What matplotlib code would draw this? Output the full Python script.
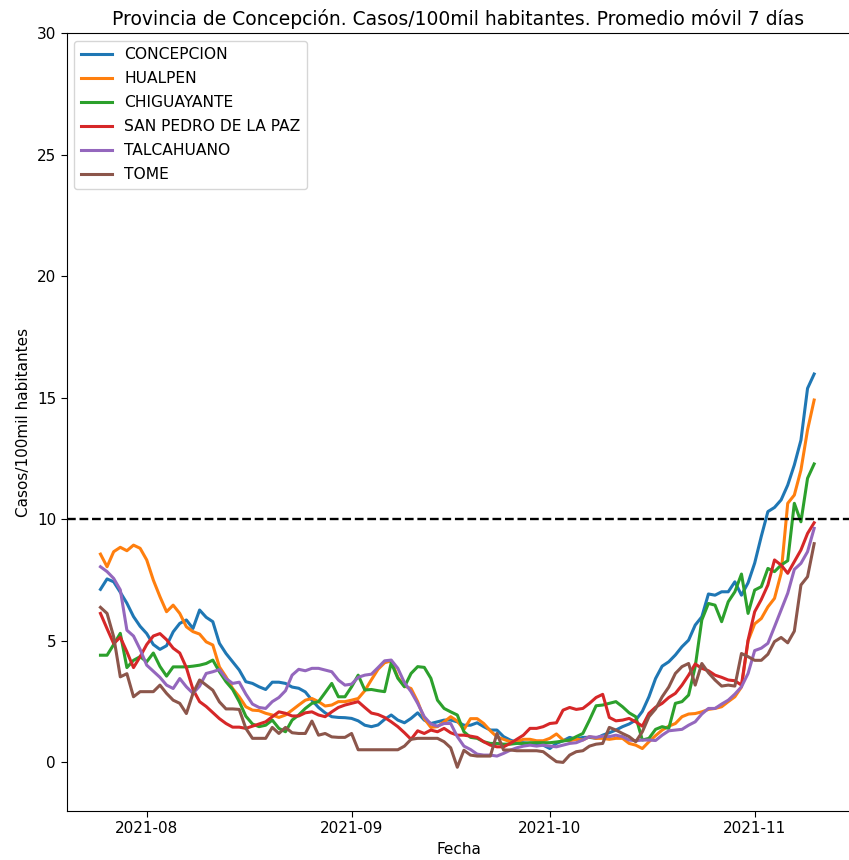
import matplotlib
matplotlib.use("Agg")
import matplotlib.pyplot as plt
import matplotlib.dates as mdates
import pandas as pd

start_date = "2021-07-25"
n_days = 109

concepcion = [
    7.12, 7.55, 7.43, 7.0, 6.55, 6.0, 5.6, 5.3, 4.85, 4.65,
    4.8, 5.37, 5.72, 5.86, 5.51, 6.27, 5.97, 5.79, 4.9, 4.48,
    4.14, 3.8, 3.32, 3.25, 3.11, 3.0, 3.3, 3.3, 3.25, 3.1,
    3.05, 2.9, 2.56, 2.26, 2.04, 1.88, 1.85, 1.84, 1.81, 1.71,
    1.53, 1.47, 1.54, 1.77, 1.95, 1.74, 1.63, 1.81, 2.04, 1.74,
    1.6, 1.67, 1.74, 1.74, 1.67, 1.53, 1.53, 1.63, 1.47, 1.33,
    1.33, 1.06, 0.92, 0.82, 0.81, 0.78, 0.75, 0.71, 0.57, 0.78,
    0.89, 1.03, 0.95, 1.03, 1.03, 0.99, 1.12, 1.22, 1.33, 1.47,
    1.58, 1.74, 2.1, 2.7, 3.45, 3.96, 4.14, 4.42, 4.76, 5.03,
    5.65, 5.99, 6.93, 6.88, 7.02, 7.02, 7.43, 6.88, 7.39, 8.2,
    9.3, 10.32, 10.49, 10.8, 11.41, 12.24, 13.26, 15.39, 15.98,
]

hualpen = [
    8.57, 8.05, 8.67, 8.85, 8.71, 8.94, 8.81, 8.33, 7.5, 6.82,
    6.2, 6.47, 6.13, 5.58, 5.38, 5.28, 4.96, 4.83, 3.93, 3.52,
    3.04, 2.7, 2.29, 2.15, 2.13, 2.02, 1.95, 1.85, 1.95, 2.15,
    2.36, 2.56, 2.63, 2.5, 2.32, 2.36, 2.5, 2.5, 2.56, 2.63,
    2.95, 3.4, 3.83, 4.1, 4.18, 3.5, 3.14, 3.04, 2.5, 1.8,
    1.44, 1.47, 1.67, 1.88, 1.7, 1.35, 1.8, 1.8, 1.6, 1.3,
    1.05, 0.95, 0.85, 0.85, 0.95, 0.95, 0.89, 0.89, 0.99, 1.17,
    0.92, 0.89, 0.95, 0.92, 1.06, 0.99, 0.99, 0.95, 0.99, 0.99,
    0.78, 0.71, 0.57, 0.85, 1.1, 1.33, 1.49, 1.6, 1.88, 1.99,
    2.01, 2.08, 2.18, 2.22, 2.29, 2.5, 2.7, 3.1, 5.0, 5.7,
    5.92, 6.4, 6.75, 7.78, 10.66, 11.0, 12.03, 13.68, 14.91,
]

chiguayante = [
    4.41, 4.41, 4.85, 5.31, 3.9, 4.2, 4.35, 4.14, 4.5, 3.95,
    3.55, 3.93, 3.93, 3.93, 3.96, 4.0, 4.07, 4.21, 3.73, 3.32,
    3.0, 2.5, 1.9, 1.58, 1.47, 1.53, 1.74, 1.4, 1.26, 1.74,
    1.95, 2.22, 2.43, 2.5, 2.87, 3.25, 2.7, 2.7, 3.11, 3.59,
    2.98, 3.0, 2.95, 2.91, 4.1, 3.46, 3.11, 3.66, 3.94, 3.91,
    3.46, 2.56, 2.22, 2.08, 1.95, 1.26, 1.03, 0.99, 0.85, 0.78,
    0.78, 0.75, 0.75, 0.78, 0.78, 0.81, 0.81, 0.81, 0.81, 0.84,
    0.88, 0.92, 1.06, 1.19, 1.74, 2.33, 2.36, 2.43, 2.5, 2.29,
    2.04, 1.88, 0.92, 0.99, 1.36, 1.47, 1.4, 2.43, 2.5, 2.77,
    3.94, 5.86, 6.54, 6.47, 5.79, 6.61, 7.02, 7.75, 6.13, 7.09,
    7.23, 7.98, 7.85, 8.12, 8.3, 10.66, 9.9, 11.69, 12.28,
]

san_pedro = [
    6.13, 5.5, 4.89, 5.15, 4.55, 3.9, 4.35, 4.85, 5.2, 5.3,
    5.05, 4.7, 4.5, 3.9, 3.0, 2.5, 2.3, 2.05, 1.8, 1.6,
    1.45, 1.45, 1.4, 1.49, 1.58, 1.67, 1.88, 2.08, 2.02, 1.91,
    1.91, 2.04, 2.08, 1.95, 1.88, 2.08, 2.26, 2.36, 2.43, 2.5,
    2.26, 2.03, 1.97, 1.85, 1.67, 1.47, 1.22, 0.95, 1.3, 1.19,
    1.33, 1.26, 1.4, 1.22, 1.12, 1.12, 1.08, 1.03, 0.85, 0.71,
    0.64, 0.64, 0.78, 0.95, 1.12, 1.4, 1.4, 1.47, 1.6, 1.63,
    2.15, 2.26, 2.18, 2.22, 2.43, 2.67, 2.8, 1.85, 1.71, 1.74,
    1.81, 1.67, 1.49, 2.02, 2.27, 2.43, 2.67, 2.84, 3.18, 3.59,
    4.05, 3.87, 3.77, 3.59, 3.5, 3.39, 3.36, 3.18, 5.03, 6.2,
    6.7, 7.3, 8.33, 8.12, 7.78, 8.26, 8.74, 9.42, 9.86,
]

talcahuano = [
    8.05, 7.85, 7.57, 7.1, 5.44, 5.2, 4.65, 4.0, 3.75, 3.5,
    3.18, 3.04, 3.45, 3.11, 2.84, 3.14, 3.66, 3.73, 3.82, 3.45,
    3.25, 3.3, 2.81, 2.4, 2.26, 2.22, 2.5, 2.67, 2.95, 3.59,
    3.83, 3.77, 3.87, 3.87, 3.8, 3.73, 3.39, 3.18, 3.22, 3.5,
    3.59, 3.63, 3.9, 4.18, 4.21, 3.87, 3.28, 2.91, 2.43, 1.88,
    1.58, 1.49, 1.6, 1.6, 1.06, 0.67, 0.53, 0.34, 0.3, 0.3,
    0.26, 0.37, 0.5, 0.6, 0.67, 0.71, 0.67, 0.71, 0.67, 0.64,
    0.71, 0.78, 0.81, 0.92, 1.06, 1.03, 1.08, 1.06, 1.12, 1.06,
    0.92, 0.89, 0.92, 0.92, 0.9, 1.12, 1.3, 1.33, 1.36, 1.53,
    1.67, 1.99, 2.22, 2.22, 2.4, 2.56, 2.81, 3.11, 3.66, 4.6,
    4.7, 4.9, 5.58, 6.27, 6.96, 7.94, 8.19, 8.67, 9.63,
]

tome = [
    6.38, 6.13, 5.17, 3.52, 3.65, 2.7, 2.91, 2.91, 2.91, 3.18,
    2.84, 2.56, 2.43, 2.01, 2.84, 3.39, 3.18, 2.97, 2.49, 2.2,
    2.2, 2.18, 1.4, 0.99, 0.99, 0.99, 1.44, 1.19, 1.44, 1.22,
    1.19, 1.19, 1.7, 1.12, 1.19, 1.05, 1.03, 1.03, 1.19, 0.52,
    0.52, 0.52, 0.52, 0.52, 0.52, 0.52, 0.67, 0.95, 0.99, 0.99,
    0.99, 0.99, 0.85, 0.6, -0.2, 0.5, 0.3, 0.26, 0.26, 0.26,
    1.19, 0.51, 0.51, 0.48, 0.48, 0.48, 0.48, 0.44, 0.23, 0.03,
    0.0, 0.3, 0.44, 0.48, 0.67, 0.75, 0.78, 1.44, 1.33, 1.19,
    1.06, 0.85, 1.26, 1.88, 2.2, 2.7, 3.1, 3.66, 3.94, 4.07,
    3.18, 4.07, 3.69, 3.39, 3.14, 3.18, 3.14, 4.48, 4.35, 4.2,
    4.2, 4.45, 4.97, 5.14, 4.92, 5.4, 7.3, 7.64, 9.0,
]

series_names = ["CONCEPCION", "HUALPEN", "CHIGUAYANTE", "SAN PEDRO DE LA PAZ", "TALCAHUANO", "TOME"]
series_values = [concepcion, hualpen, chiguayante, san_pedro, talcahuano, tome]
threshold = 10
y_ticks = [0, 5, 10, 15, 20, 25, 30]

dates = pd.date_range(start_date, periods=n_days, freq="D")

fig = plt.figure(figsize=(8.49, 8.60), dpi=100)
ax = fig.add_axes([66.5 / 849, 1 - 811 / 860, (850.5 - 66.5) / 849, (811 - 33.3) / 860])

for name, vals in zip(series_names, series_values):
    ax.plot(dates, vals, label=name, linewidth=2.2)

ax.axhline(threshold, color="black", linestyle="--", linewidth=1.7)

ax.set_ylim(-2, 30)
ax.set_yticks(y_ticks)
ax.set_xlim(dates[0] - pd.Timedelta(days=5.14), dates[-1] + pd.Timedelta(days=5.5))
ax.xaxis.set_major_locator(mdates.MonthLocator())
ax.xaxis.set_major_formatter(mdates.DateFormatter("%Y-%m"))
ax.tick_params(labelsize=11, length=4)

ax.set_title("Provincia de Concepción. Casos/100mil habitantes. Promedio móvil 7 días", fontsize=13.5)
ax.set_xlabel("Fecha", fontsize=11)
ax.set_ylabel("Casos/100mil habitantes", fontsize=11)
ax.legend(loc="upper left", fontsize=11.2, labelspacing=0.58)

fig.savefig("out.png", dpi=100)
